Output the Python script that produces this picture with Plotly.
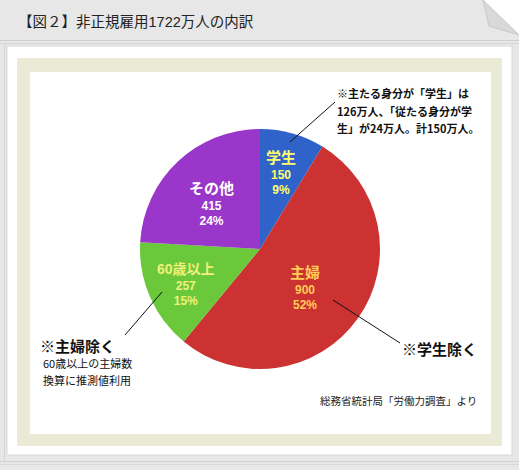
import plotly.graph_objects as go

W, H = 519, 470

categories = ["学生", "主婦", "60歳以上", "その他"]
values = [150, 900, 257, 415]
percent_labels = ["9%", "52%", "15%", "24%"]
slice_colors = ["#2f63c9", "#cc3232", "#6ac83a", "#9a36c9"]
label_colors = ["#ffff6e", "#ffcc55", "#f0f07a", "#ffffff"]
title_text = "【図２】非正規雇用1722万人の内訳"
note_lines = ["※主たる身分が「学生」は", "126万人、「従たる身分が学", "生」が24万人。計150万人。"]
source_text = "総務省統計局「労働力調査」より"

FONT_LAT = "Liberation Sans, Noto Sans CJK JP"
FONT_CJK = "Noto Sans CJK JP"


def X(x):
    return x / W


def Y(y):
    return 1 - y / H


def path(points):
    s = "M" + " L".join(f"{X(x):.5f},{Y(y):.5f}" for x, y in points) + " Z"
    return s


def rect(x0, y0, x1, y1, color, line=None):
    return dict(type="rect", xref="paper", yref="paper",
                x0=X(x0), x1=X(x1), y0=Y(y1), y1=Y(y0),
                fillcolor=color, line=dict(width=0) if line is None else line,
                layer="below")


cx, cy, R = 260, 249, 120

fig = go.Figure()
fig.add_trace(go.Pie(
    labels=categories, values=values, sort=False, direction="clockwise",
    rotation=0, marker=dict(colors=slice_colors, line=dict(width=0)),
    textinfo="none", hoverinfo="label+value+percent", showlegend=False,
    domain=dict(x=[X(cx - R), X(cx + R)], y=[Y(cy + R), Y(cy - R)]),
))

shapes = []
# outer card with folded corner
shapes.append(dict(type="path", xref="paper", yref="paper",
                   path=path([(0, 0), (483, 0), (519, 35), (519, 470), (0, 470)]),
                   fillcolor="#e7e7e7", line=dict(width=0), layer="below"))
# fold
shapes.append(dict(type="path", xref="paper", yref="paper",
                   path=path([(483, 0), (489, 26), (519, 35)]),
                   fillcolor="#d9d9d9", line=dict(color="#c8c8c8", width=1), layer="below"))
# header separator lines
shapes.append(dict(type="line", xref="paper", yref="paper", x0=X(0), x1=X(519), y0=Y(40.5), y1=Y(40.5),
                   line=dict(color="#cfcfcf", width=1), layer="below"))
shapes.append(dict(type="line", xref="paper", yref="paper", x0=X(0), x1=X(519), y0=Y(43.5), y1=Y(43.5),
                   line=dict(color="#d6d6d6", width=1), layer="below"))
# left edge line
shapes.append(dict(type="line", xref="paper", yref="paper", x0=X(4.5), x1=X(4.5), y0=Y(44), y1=Y(462),
                   line=dict(color="#d4d4d4", width=1), layer="below"))
# bottom lines
shapes.append(dict(type="line", xref="paper", yref="paper", x0=X(0), x1=X(519), y0=Y(461.5), y1=Y(461.5),
                   line=dict(color="#d2d2d2", width=1), layer="below"))
shapes.append(dict(type="line", xref="paper", yref="paper", x0=X(0), x1=X(519), y0=Y(464.5), y1=Y(464.5),
                   line=dict(color="#dadada", width=1), layer="below"))
# white panel
shapes.append(rect(7, 46, 512, 455, "#ffffff", line=dict(color="#d8d8d8", width=1)))
# beige frame
shapes.append(rect(17, 58, 502, 446, "#eaead7"))
# inner white
shapes.append(rect(30, 72, 491, 434, "#ffffff"))

# callout lines
for (x0, y0, x1, y1) in [(290, 142, 335, 102), (333, 300, 400, 343), (162, 292, 125, 335)]:
    shapes.append(dict(type="line", xref="paper", yref="paper",
                       x0=X(x0), y0=Y(y0), x1=X(x1), y1=Y(y1),
                       line=dict(color="#111111", width=1), layer="above"))

annotations = []


def ann(x, y, text, size, color="#111111", bold=False, xanchor="center", family=FONT_CJK):
    t = f"<b>{text}</b>" if bold else text
    annotations.append(dict(x=X(x), y=Y(y), xref="paper", yref="paper", text=t,
                            showarrow=False, xanchor=xanchor, yanchor="middle",
                            borderpad=0,
                            font=dict(family=family, size=size, color=color)))


ann(17, 22, title_text, 14.5, color="#222222", xanchor="left", family=FONT_LAT)

# slice labels (one block per slice)
label_pos = [(281, 173), (305, 288), (186, 284), (211, 204)]
title_sizes = [15, 15, 14, 15]
for i in range(len(categories)):
    x, y = label_pos[i]
    c = label_colors[i]
    txt = (f"<span style='font-size:{title_sizes[i]}px'>{categories[i]}</span>"
           f"<br>{values[i]}<br>{percent_labels[i]}")
    ann(x, y, txt, 12, color=c, bold=True, family=FONT_LAT)

for i, line in enumerate(note_lines):
    ann(336, 93 + i * 17.5, line, 11, color="#111111", bold=True, xanchor="left")

ann(401, 348, "※学生除く", 15, bold=True, xanchor="left")
ann(39, 345, "※主婦除く", 15, bold=True, xanchor="left")
ann(42, 363, "60歳以上の主婦数", 11, xanchor="left")
ann(42, 380, "換算に推測値利用", 11, xanchor="left")
ann(478, 400, source_text, 10.5, color="#222222", xanchor="right")

fig.update_layout(
    width=W, height=H, margin=dict(l=0, r=0, t=0, b=0),
    paper_bgcolor="#ffffff", plot_bgcolor="#ffffff",
    shapes=shapes, annotations=annotations,
    xaxis=dict(visible=False), yaxis=dict(visible=False),
)

fig.write_html("out.html", config={"displayModeBar": False},
               post_script="document.body.style.margin='0';")
